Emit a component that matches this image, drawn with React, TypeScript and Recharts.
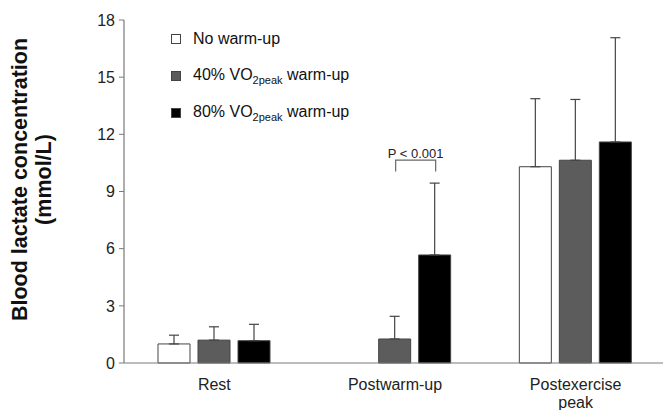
import React from "react";
import { BarChart, Bar, XAxis, YAxis, ErrorBar, Legend, LabelList } from "recharts";

const categories = ["Rest", "Postwarm-up", "Postexercise\npeak"];
const noWarmup: (number | null)[] = [1.0, null, 10.3];
const noWarmupSd: (number | null)[] = [0.46, null, 3.57];
const warm40: number[] = [1.2, 1.26, 10.64];
const warm40Sd: number[] = [0.7, 1.19, 3.19];
const warm80: number[] = [1.17, 5.67, 11.6];
const warm80Sd: number[] = [0.86, 3.77, 5.47];
const yTicks = [0, 3, 6, 9, 12, 15, 18];
const seriesNames = ["No warm-up", "40% VO2peak warm-up", "80% VO2peak warm-up"];
const pLabel = "P < 0.001";
const pBracketTop = 10.65;
const pBracketLeg = 10.05;
const pTextValue = 11.0;

const data = categories.map((c, i) => ({
  cat: c,
  a: noWarmup[i],
  aErr: noWarmupSd[i] == null ? null : [0, noWarmupSd[i]],
  b: warm40[i],
  bErr: [0, warm40Sd[i]],
  c: warm80[i],
  cErr: [0, warm80Sd[i]],
}));

const FONT = "'Liberation Sans', Arial, sans-serif";
const AXIS = "#7a7a7a";
const EDGE = "#444";
const BAR_GAP = 8;

const XTick = (props: any) => {
  const { x, y, payload } = props;
  const lines = String(payload.value).split("\n");
  return (
    <g>
      {lines.map((l: string, i: number) => (
        <text key={i} x={x} y={y + 25 + i * 18} textAnchor="middle" fontSize={16} fontFamily={FONT} fill="#222">
          {l}
        </text>
      ))}
    </g>
  );
};

const YLabel = (props: any) => {
  const vb = props.viewBox || { x: 0, y: 20, width: 124, height: 343 };
  const cy = vb.y + vb.height / 2 - 12;
  return (
    <g>
      <text x={20} y={cy} transform={`rotate(-90 20 ${cy})`} textAnchor="middle" dominantBaseline="central" fontSize={21.5} fontWeight="bold" fontFamily={FONT} fill="#111">
        Blood lactate concentration
      </text>
      <text x={44} y={cy} transform={`rotate(-90 44 ${cy})`} textAnchor="middle" dominantBaseline="central" fontSize={21.5} fontWeight="bold" fontFamily={FONT} fill="#111">
        (mmol/L)
      </text>
    </g>
  );
};

const renderName = (name: string) => {
  const idx = name.indexOf("VO2peak");
  if (idx < 0) return name;
  return (
    <>
      {name.slice(0, idx)}VO
      <sub style={{ fontSize: 11, verticalAlign: "-4px" }}>2peak</sub>
      {name.slice(idx + 7)}
    </>
  );
};

const LegendContent = (props: any) => {
  const payload = [...(props.payload || [])].sort(
    (p: any, q: any) => seriesNames.indexOf(p.value) - seriesNames.indexOf(q.value)
  );
  return (
    <div style={{ fontFamily: FONT, fontSize: 16, color: "#111" }}>
      {payload.map((p: any, i: number) => (
        <div key={i} style={{ height: 37, display: "flex", alignItems: "center", whiteSpace: "nowrap" }}>
          <span
            style={{
              display: "inline-block",
              width: 8,
              height: 8,
              background: p.payload?.fill ?? p.color,
              border: `1px solid ${EDGE}`,
              marginRight: 12,
            }}
          />
          <span>{renderName(p.value)}</span>
        </div>
      ))}
    </div>
  );
};

const PAnnotation = (props: any) => {
  const { x, y, width, height, index, value } = props;
  if (index !== 1 || value == null) return null;
  const base = Number(y) + Number(height);
  const perUnit = Number(height) / Number(value);
  const right = Number(x) + Number(width) / 2 + 1;
  const left = right - Number(width) - BAR_GAP;
  const top = base - pBracketTop * perUnit;
  const leg = base - pBracketLeg * perUnit;
  const ty = base - pTextValue * perUnit;
  return (
    <g>
      <path d={`M${left},${leg} L${left},${top} L${right},${top} L${right},${leg}`} fill="none" stroke="#666" strokeWidth={1.2} />
      <text x={(left + right) / 2} y={ty} textAnchor="middle" dominantBaseline="central" fontSize={13} fontFamily={FONT} fill="#222">
        {pLabel}
      </text>
    </g>
  );
};

export default function App() {
  return (
    <div style={{ position: "absolute", left: 0, top: 0, width: 663, height: 410, overflow: "hidden", background: "#fff" }}>
      <BarChart width={668} height={410} data={data} margin={{ top: 20, right: 2, left: 0, bottom: 0 }} barSize={32} barGap={BAR_GAP}>
        <XAxis dataKey="cat" height={47} tickLine={false} tickSize={0} tick={<XTick />} axisLine={{ stroke: AXIS, strokeWidth: 1.2 }} interval={0} />
        <YAxis
          width={124}
          domain={[0, 18]}
          ticks={yTicks}
          tickSize={5}
          tickMargin={4}
          tickLine={{ stroke: AXIS }}
          axisLine={{ stroke: AXIS, strokeWidth: 1.2 }}
          tick={{ fontSize: 16, fontFamily: FONT, fill: "#222" }}
          label={{ content: <YLabel /> }}
        />
        <Legend
          layout="horizontal"
          verticalAlign="middle"
          align="center"
          content={<LegendContent />}
          wrapperStyle={{ position: "absolute", left: 171, top: 20, width: 300 }}
        />
        <Bar dataKey="a" name={seriesNames[0]} fill="#ffffff" stroke={EDGE} strokeWidth={1} isAnimationActive={false}>
          <ErrorBar dataKey="aErr" width={5} stroke={EDGE} strokeWidth={1.2} direction="y" />
        </Bar>
        <Bar dataKey="b" name={seriesNames[1]} fill="#5c5c5c" stroke={EDGE} strokeWidth={1} isAnimationActive={false}>
          <ErrorBar dataKey="bErr" width={5} stroke={EDGE} strokeWidth={1.2} direction="y" />
        </Bar>
        <Bar dataKey="c" name={seriesNames[2]} fill="#000000" stroke={EDGE} strokeWidth={1} isAnimationActive={false}>
          <ErrorBar dataKey="cErr" width={5} stroke={EDGE} strokeWidth={1.2} direction="y" />
          <LabelList dataKey="c" content={<PAnnotation />} />
        </Bar>
      </BarChart>
    </div>
  );
}
